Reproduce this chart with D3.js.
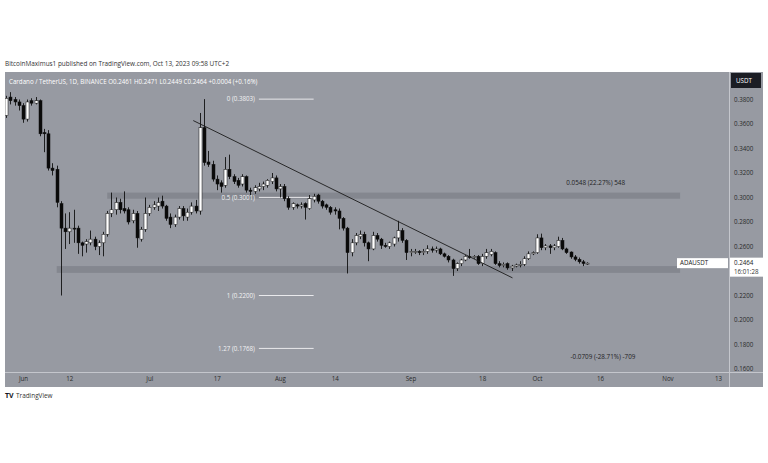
<!DOCTYPE html>
<html><head><meta charset="utf-8">
<script src="https://cdn.jsdelivr.net/npm/d3@7"></script>
<style>
body{margin:0;background:#fff;}
svg{display:block;font-family:"Open Sans","Liberation Sans",sans-serif;}
</style>
</head><body>
<svg id="chart" width="768" height="463"></svg>
<script>
// ---------- DATA ----------
const firstCandleDate = "2023-05-28"; // daily candles, one per day
const open  = [0.367,0.382,0.380,0.378,0.375,0.364,0.379,0.377,0.379,0.353,0.352,0.324,0.323,0.295,0.275,0.272,0.275,0.275,0.263,0.262,0.263,0.266,0.260,0.263,0.270,0.287,0.290,0.296,0.291,0.290,0.281,0.287,0.266,0.274,
0.287,0.292,0.293,0.297,0.293,0.284,0.278,0.284,0.291,0.284,0.288,0.293,0.289,0.357,0.329,0.327,0.315,0.312,0.310,0.323,0.317,0.314,0.311,0.317,0.306,0.305,0.307,0.309,0.310,0.313,0.316,
0.307,0.309,0.299,0.292,0.294,0.293,0.295,0.291,0.298,0.302,0.297,0.294,0.292,0.290,0.289,0.283,0.275,0.255,0.263,0.268,0.270,0.263,0.258,0.269,0.266,0.261,0.260,0.262,0.267,0.273,0.265,
0.255,0.256,0.256,0.255,0.256,0.258,0.257,0.258,0.254,0.252,0.249,0.242,0.246,0.249,0.252,0.251,0.252,0.246,0.252,0.2535,0.255,0.246,0.2445,0.246,0.2425,0.244,0.245,0.2455,0.250,0.254,
0.255,0.267,0.259,0.2605,0.259,0.260,0.265,0.258,0.2555,0.2515,0.2495,0.2475,0.2461];
const high  = [0.383,0.386,0.382,0.380,0.377,0.380,0.381,0.382,0.380,0.356,0.355,0.328,0.326,0.297,0.287,0.288,0.290,0.277,0.264,0.266,0.273,0.268,0.265,0.272,0.289,0.304,0.300,0.299,0.305,0.292,0.290,0.289,0.276,0.300,
0.294,0.297,0.300,0.3015,0.294,0.287,0.286,0.293,0.293,0.291,0.296,0.298,0.369,0.3803,0.338,0.330,0.318,0.314,0.333,0.335,0.319,0.316,0.319,0.318,0.308,0.310,0.312,0.313,0.315,0.320,0.318,
0.311,0.311,0.301,0.296,0.295,0.296,0.296,0.302,0.303,0.303,0.298,0.295,0.293,0.292,0.291,0.284,0.276,0.266,0.271,0.273,0.272,0.264,0.272,0.271,0.267,0.263,0.264,0.268,0.281,0.275,0.266,
0.258,0.258,0.257,0.258,0.261,0.260,0.260,0.259,0.255,0.253,0.250,0.247,0.250,0.253,0.258,0.253,0.253,0.254,0.258,0.258,0.256,0.248,0.247,0.247,0.245,0.246,0.248,0.252,0.256,0.256,
0.270,0.2705,0.262,0.262,0.262,0.268,0.267,0.259,0.256,0.253,0.251,0.249,0.2471];
const low   = [0.365,0.376,0.375,0.371,0.361,0.362,0.375,0.376,0.350,0.337,0.322,0.318,0.292,0.220,0.258,0.262,0.263,0.254,0.252,0.255,0.261,0.257,0.253,0.252,0.268,0.284,0.286,0.287,0.287,0.278,0.279,0.259,0.264,0.272,
0.285,0.290,0.289,0.291,0.281,0.275,0.276,0.282,0.281,0.281,0.286,0.287,0.286,0.326,0.325,0.313,0.306,0.304,0.308,0.315,0.311,0.308,0.309,0.304,0.302,0.303,0.305,0.306,0.308,0.311,0.305,
0.300,0.297,0.290,0.290,0.291,0.291,0.282,0.290,0.296,0.295,0.291,0.290,0.286,0.286,0.274,0.273,0.238,0.252,0.261,0.266,0.260,0.248,0.257,0.264,0.258,0.259,0.258,0.260,0.264,0.263,0.249,
0.252,0.254,0.253,0.253,0.254,0.255,0.255,0.253,0.251,0.247,0.236,0.240,0.244,0.248,0.250,0.250,0.245,0.244,0.250,0.252,0.245,0.243,0.243,0.241,0.240,0.243,0.243,0.244,0.249,0.253,
0.254,0.257,0.257,0.254,0.257,0.259,0.257,0.254,0.250,0.248,0.246,0.244,0.2449];
const close = [0.381,0.379,0.378,0.375,0.364,0.378,0.377,0.379,0.352,0.352,0.324,0.322,0.296,0.275,0.272,0.275,0.2745,0.263,0.261,0.264,0.266,0.260,0.263,0.270,0.287,0.290,0.296,0.290,0.289,0.280,0.287,0.267,0.274,0.287,
0.292,0.294,0.296,0.293,0.283,0.278,0.284,0.291,0.285,0.288,0.293,0.289,0.357,0.3285,0.327,0.315,0.311,0.309,0.323,0.317,0.313,0.310,0.317,0.306,0.305,0.308,0.309,0.311,0.314,0.316,0.307,
0.309,0.299,0.292,0.295,0.293,0.294,0.292,0.299,0.301,0.297,0.293,0.292,0.288,0.289,0.283,0.275,0.255,0.263,0.269,0.270,0.263,0.258,0.269,0.266,0.261,0.260,0.263,0.267,0.273,0.265,0.255,
0.256,0.256,0.255,0.256,0.258,0.257,0.258,0.254,0.252,0.249,0.242,0.246,0.249,0.252,0.251,0.252,0.246,0.252,0.255,0.256,0.246,0.2445,0.2455,0.2425,0.244,0.245,0.2455,0.250,0.254,0.255,
0.267,0.259,0.2605,0.259,0.2605,0.265,0.258,0.255,0.2515,0.2495,0.2475,0.2461,0.2464];

// 0.2400 is hidden behind the last-price label in the reference, so it is not listed
const priceTicks = [0.16,0.18,0.20,0.22,0.26,0.28,0.30,0.32,0.34,0.36,0.38];
const timeTickDates  = ["2023-06-01","2023-06-12","2023-07-01","2023-07-17","2023-08-01","2023-08-14","2023-09-01","2023-09-18","2023-10-01","2023-10-16","2023-11-01","2023-11-13"];
const timeTickLabels = ["Jun","12","Jul","17","Aug","14","Sep","18","Oct","16","Nov","13"];

const fibLabels = ["0 (0.3803)","0.5 (0.3001)","1 (0.2200)","1.27 (0.1768)"];
const fibPrices = [0.3803,0.3001,0.2200,0.1768];
const fibSpan   = ["2023-07-27","2023-08-09"];

const zoneNames  = ["resistance","support"];
const zoneStart  = ["2023-06-21","2023-06-09"];
const zoneEnd    = ["2023-11-04","2023-11-04"];
const zoneLow    = [0.2990,0.2385];
const zoneHigh   = [0.3040,0.2440];

const trendDates  = ["2023-07-11T10:00","2023-09-25T05:00"];
const trendPrices = [0.3628,0.2344];

const measureTexts  = ["0.0548 (22.27%) 548","-0.0709 (-28.71%) -709"];
const measureDates  = ["2023-10-08","2023-10-09"];
const measurePrices = [0.3105,0.1685];

const lastPrice = 0.2464;

// ---------- LAYOUT ----------
const svg = d3.select("#chart");
const P = {left:5, right:729, top:72, bottom:372, axisRight:763, panelBottom:387};
const parse = d3.utcParse("%Y-%m-%d");
const parseT = d3.utcParse("%Y-%m-%dT%H:%M");
const x = d3.scaleUtc().domain([parse("2023-06-01"), parse("2023-11-13")]).range([23, 718]);
const y = d3.scaleLinear().domain([0.16, 0.38]).range([369, 99.5]);

const bg = "#979aa2";
svg.append("rect").attr("width",768).attr("height",463).attr("fill","#fff");
svg.append("rect").attr("x",P.left).attr("y",P.top).attr("width",P.axisRight-P.left).attr("height",P.panelBottom-P.top).attr("fill",bg);

svg.append("text").attr("x",5).attr("y",66).attr("font-size",6.4).attr("fill","#333")
  .text("BitcoinMaximus1 published on TradingView.com, Oct 13, 2023 09:58 UTC+2");

// clip
svg.append("clipPath").attr("id","plot").append("rect")
  .attr("x",P.left).attr("y",P.top).attr("width",P.right-P.left).attr("height",P.bottom-P.top);
const g = svg.append("g").attr("clip-path","url(#plot)");

// zones
zoneNames.forEach((n,i)=>{
  g.append("rect").attr("x",x(parse(zoneStart[i]))).attr("width",x(parse(zoneEnd[i]))-x(parse(zoneStart[i])))
    .attr("y",y(zoneHigh[i])).attr("height",y(zoneLow[i])-y(zoneHigh[i]))
    .attr("fill","#7d8088").attr("opacity",0.75);
});

// fib lines
fibPrices.forEach((p,i)=>{
  g.append("line").attr("x1",x(parse(fibSpan[0]))).attr("x2",x(parse(fibSpan[1])))
    .attr("y1",y(p)).attr("y2",y(p)).attr("stroke","#e9e9ec").attr("stroke-width",1);
  g.append("text").attr("x",x(parse(fibSpan[0]))-4).attr("y",y(p)+2.2).attr("text-anchor","end")
    .attr("font-size",6.2).attr("fill","#f2f2f4").text(fibLabels[i]);
});

// candles
const start = parse(firstCandleDate);
const candles = open.map((o,i)=>({d:d3.utcDay.offset(start,i),o,h:high[i],l:low[i],c:close[i]}));
const bw = 3;
const cg = g.append("g");
cg.selectAll("line.w").data(candles).join("line").attr("class","w")
  .attr("x1",d=>Math.round(x(d.d))+0.5).attr("x2",d=>Math.round(x(d.d))+0.5)
  .attr("y1",d=>y(d.h)).attr("y2",d=>y(d.l)).attr("stroke","#111").attr("stroke-width",0.9);
cg.selectAll("rect.b").data(candles).join("rect").attr("class","b")
  .attr("x",d=>Math.round(x(d.d))-1)
  .attr("width",bw)
  .attr("y",d=>y(Math.max(d.o,d.c)))
  .attr("height",d=>Math.max(1,Math.abs(y(d.o)-y(d.c))))
  .attr("fill",d=>d.c>=d.o?"#ffffff":"#0a0a0a")
  .attr("stroke","#111").attr("stroke-width",0.5);

// trend line
g.append("line").attr("x1",x(parseT(trendDates[0]))).attr("y1",y(trendPrices[0]))
  .attr("x2",x(parseT(trendDates[1]))).attr("y2",y(trendPrices[1]))
  .attr("stroke","#1c1c1c").attr("stroke-width",0.9);

// measurement texts
measureTexts.forEach((t,i)=>{
  g.append("text").attr("x",x(parse(measureDates[i]))).attr("y",y(measurePrices[i])).attr("font-size",6.3)
   .attr("fill","#222").text(t);
});

// legend
svg.append("text").attr("x",9).attr("y",84).attr("font-size",6.2).attr("fill","#fff")
  .text("Cardano / TetherUS, 1D, BINANCE   O0.2461  H0.2471  L0.2449  C0.2464  +0.0004 (+0.16%)");

// price axis
svg.append("line").attr("x1",P.right+0.5).attr("x2",P.right+0.5).attr("y1",P.top).attr("y2",P.panelBottom)
  .attr("stroke","#c4c6cc").attr("stroke-width",1);
const yAxis = d3.axisRight(y).tickValues(priceTicks).tickFormat(d3.format(".4f")).tickSize(0).tickPadding(5);
const ya = svg.append("g").attr("transform",`translate(${P.right},0)`).call(yAxis);
ya.select(".domain").remove();
ya.selectAll("text").attr("font-size",6.2).attr("fill","#2a2a2a").attr("font-family","Open Sans, sans-serif");

// time axis
svg.append("line").attr("x1",P.left).attr("x2",P.axisRight).attr("y1",P.bottom+0.5).attr("y2",P.bottom+0.5)
  .attr("stroke","#c4c6cc").attr("stroke-width",1);
const xAxis = d3.axisBottom(x).tickValues(timeTickDates.map(parse)).tickFormat((d,i)=>timeTickLabels[i]).tickSize(0).tickPadding(5);
const xa = svg.append("g").attr("transform",`translate(0,${P.bottom})`).call(xAxis);
xa.select(".domain").remove();
xa.selectAll("text").attr("font-size",6.2).attr("fill","#2a2a2a").attr("font-family","Open Sans, sans-serif");

// USDT box
svg.append("rect").attr("x",731).attr("y",73).attr("width",30).attr("height",15).attr("fill","#1b1d24");
svg.append("text").attr("x",736).attr("y",83).attr("font-size",6.2).attr("fill","#fff").text("USDT");

// last price labels
const ly = y(lastPrice);
svg.append("rect").attr("x",677).attr("y",ly-5).attr("width",51).attr("height",10).attr("fill","#fff");
svg.append("text").attr("x",680).attr("y",ly+2.2).attr("font-size",6.2).attr("fill","#222").text("ADAUSDT");
svg.append("rect").attr("x",730).attr("y",ly-5.5).attr("width",33).attr("height",19).attr("fill","#fff");
svg.append("text").attr("x",734).attr("y",ly+2.2).attr("font-size",6.2).attr("fill","#222").text(d3.format(".4f")(lastPrice));
svg.append("text").attr("x",734).attr("y",ly+10.5).attr("font-size",6.2).attr("fill","#333").text("16:01:28");

// TradingView footer
svg.append("text").attr("x",5).attr("y",398).attr("font-size",7).attr("font-weight","bold").attr("fill","#131722").text("TV");
svg.append("text").attr("x",16).attr("y",398).attr("font-size",6.4).attr("fill","#333").text("TradingView");
</script>
</body></html>
